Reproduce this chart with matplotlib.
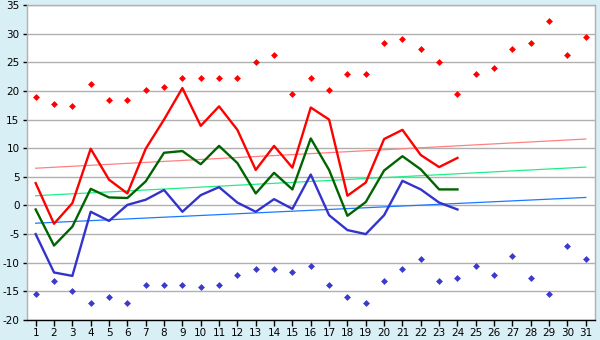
import numpy as np
import matplotlib.pyplot as plt

plt.rcParams['axes.unicode_minus'] = False

# daily temperatures for the month (days 1-24 observed so far)
days = np.arange(1, 25)
t_max = [3.9, -3.2, 0.4, 9.9, 4.5, 2.1, 9.9, 15.0, 20.5, 13.9, 17.3, 13.2,
         6.2, 10.4, 6.6, 17.1, 15.0, 1.7, 4.0, 11.6, 13.2, 8.8, 6.7, 8.3]
t_mean = [-0.7, -7.0, -3.7, 2.9, 1.4, 1.3, 4.2, 9.2, 9.5, 7.2, 10.4, 7.4,
          2.1, 5.7, 2.8, 11.7, 6.2, -1.8, 0.6, 6.1, 8.6, 6.3, 2.8, 2.8]
t_min = [-5.0, -11.7, -12.3, -1.1, -2.7, 0.1, 1.0, 2.7, -1.1, 1.8, 3.2, 0.5,
         -1.1, 1.1, -0.6, 5.4, -1.7, -4.3, -5.0, -1.7, 4.3, 2.8, 0.5, -0.7]

# record extremes for every day of the month
all_days = np.arange(1, 32)
rec_max = [18.9, 17.8, 17.3, 21.2, 18.4, 18.4, 20.1, 20.6, 22.2, 22.2, 22.2,
           22.2, 25.0, 26.3, 19.4, 22.2, 20.1, 22.9, 22.9, 28.3, 29.0, 27.3,
           25.0, 19.4, 22.9, 24.0, 27.3, 28.3, 32.2, 26.2, 29.4]
rec_min = [-15.5, -13.2, -15.0, -17.1, -16.0, -17.1, -13.9, -13.9, -13.9,
           -14.3, -13.9, -12.2, -11.1, -11.1, -11.7, -10.6, -13.9, -16.0,
           -17.1, -13.2, -11.1, -9.4, -13.2, -12.7, -10.6, -12.2, -8.9,
           -12.7, -15.5, -7.1, -9.4]

# long-term normals (start and end of month)
norm_days = [1, 31]
norm_max = [6.5, 11.6]
norm_mean = [1.7, 6.7]
norm_min = [-3.1, 1.4]

bg = '#d9eff6'
fig = plt.figure(figsize=(6, 3.4), dpi=100, facecolor=bg)
ax = fig.add_axes([26.5 / 600, 20 / 340, 568.5 / 600, 315 / 340])
ax.set_facecolor('white')

ax.plot(norm_days, norm_max, color='#ff8080', lw=0.9, zorder=2)
ax.plot(norm_days, norm_mean, color='#22ee88', lw=0.9, zorder=2)
ax.plot(norm_days, norm_min, color='#1a7aff', lw=0.9, zorder=2)

ax.plot(days, t_max, color='#ff0000', lw=1.7, zorder=3)
ax.plot(days, t_mean, color='#006400', lw=1.7, zorder=3)
ax.plot(days, t_min, color='#3333cc', lw=1.7, zorder=3)

ax.plot(all_days, rec_max, ls='none', marker='D', ms=3.5, mew=0,
        color='#ff0000', zorder=4)
ax.plot(all_days, rec_min, ls='none', marker='D', ms=3.5, mew=0,
        color='#3a3acc', zorder=4)

ax.set_xlim(0.5, 31.5)
ax.set_ylim(-20, 35)
ax.set_xticks(all_days)
ax.set_yticks(np.arange(-20, 36, 5))
ax.grid(axis='y', color='#b0b0b0', lw=1)
ax.set_axisbelow(True)

for side in ['top', 'right', 'left']:
    ax.spines[side].set_color('#b0b0b0')
ax.spines['bottom'].set_color('#000000')
for s in ax.spines.values():
    s.set_linewidth(1)

ax.tick_params(axis='both', labelsize=7.5, length=4, width=1, pad=2,
               colors='black')
ax.tick_params(axis='y', length=3)

fig.savefig('out.png', dpi=100, facecolor=bg)
